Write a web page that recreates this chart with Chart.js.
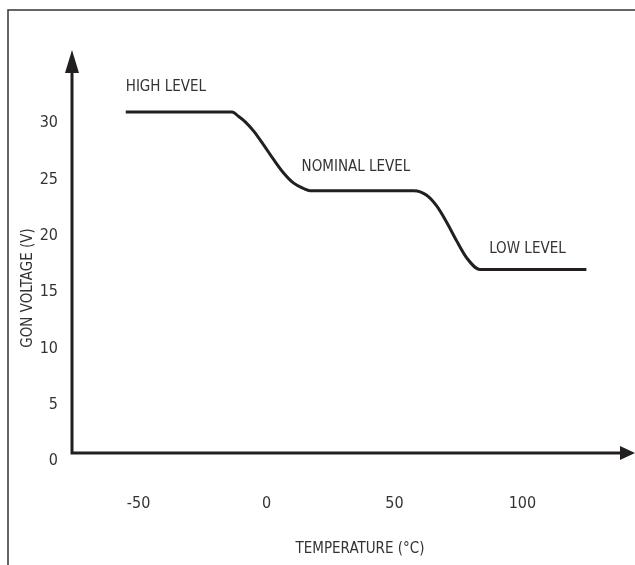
<!DOCTYPE html>
<html>
<head>
<meta charset="utf-8">
<script src="https://cdn.jsdelivr.net/npm/chart.js@4/dist/chart.umd.min.js"></script>
<style>
  html, body { margin: 0; padding: 0; background: #fff; }
  #wrap { width: 635px; height: 565px; position: relative; }
</style>
</head>
<body>
<div id="wrap"><canvas id="c" width="635" height="565"></canvas></div>
<script>
// GON output voltage versus temperature (three-level temperature compensation)
const temperatures = [-55, -13.5, -10.9, -8.2, -5.0, -1.2, 2.7, 6.6, 10.5, 14.5, 17,
                      57.6, 62.6, 66.5, 70.4, 74.3, 78.2, 83.4, 125];
const gonVoltage   = [31, 31, 30.6, 30.1, 29.3, 28.1, 26.8, 25.6, 24.7, 24.2, 24,
                      24, 23.6, 22.65, 21.2, 19.55, 18.05, 17, 17];

const xTicks = [-50, 0, 50, 100];
const yTicks = [0, 5, 10, 15, 20, 25, 30];

const levelNames = ['HIGH LEVEL', 'NOMINAL LEVEL', 'LOW LEVEL'];
const levelLabelX = [-55, 13.7, 87];
const levelLabelY = [33.2, 26.1, 18.8];

const xTitle = 'TEMPERATURE (°C)';
const yTitle = 'GON VOLTAGE (V)';

const FONT = "'Liberation Sans Narrow', 'DejaVu Sans Condensed', 'Liberation Sans', sans-serif";
const INK = '#231f20';
const TEXT = '#333333';

const decor = {
  id: 'decor',
  beforeDraw(chart) {
    const ctx = chart.ctx;
    ctx.save();
    // outer frame
    ctx.strokeStyle = '#333';
    ctx.lineWidth = 1.5;
    ctx.beginPath();
    ctx.moveTo(8, chart.height);
    ctx.lineTo(8, 10);
    ctx.lineTo(chart.width, 10);
    ctx.stroke();
    ctx.restore();
  },
  afterDatasetsDraw(chart) {
    const ctx = chart.ctx;
    const area = chart.chartArea;
    const xs = chart.scales.x, ys = chart.scales.y;
    const axisY = area.bottom - 8;
    const axisX = area.left;
    ctx.save();
    ctx.strokeStyle = INK;
    ctx.fillStyle = INK;
    ctx.lineWidth = 3;
    // axes
    ctx.beginPath();
    ctx.moveTo(axisX, area.top + 20);
    ctx.lineTo(axisX, axisY);
    ctx.lineTo(area.right - 12, axisY);
    ctx.stroke();
    // arrow heads
    ctx.beginPath();
    ctx.moveTo(axisX, area.top);
    ctx.lineTo(axisX - 7, area.top + 23);
    ctx.lineTo(axisX + 7, area.top + 23);
    ctx.closePath();
    ctx.fill();
    ctx.beginPath();
    ctx.moveTo(area.right, axisY);
    ctx.lineTo(area.right - 15, axisY - 7);
    ctx.lineTo(area.right - 15, axisY + 7);
    ctx.closePath();
    ctx.fill();

    // level labels
    ctx.fillStyle = TEXT;
    ctx.font = '15px ' + FONT;
    ctx.textAlign = 'left';
    ctx.textBaseline = 'middle';
    levelNames.forEach((name, i) => {
      ctx.fillText(name, xs.getPixelForValue(levelLabelX[i]), ys.getPixelForValue(levelLabelY[i]));
    });

    // axis titles
    ctx.textAlign = 'center';
    ctx.fillText(xTitle, 360, 549);
    ctx.save();
    ctx.translate(28, 288);
    ctx.rotate(-Math.PI / 2);
    ctx.fillText(yTitle, 0, 0);
    ctx.restore();
    ctx.restore();
  }
};

new Chart(document.getElementById('c'), {
  type: 'line',
  data: {
    datasets: [{
      data: temperatures.map((t, i) => ({ x: t, y: gonVoltage[i] })),
      borderColor: INK,
      borderWidth: 3,
      pointRadius: 0,
      cubicInterpolationMode: 'monotone',
      fill: false
    }]
  },
  options: {
    responsive: false,
    animation: false,
    events: [],
    layout: { padding: { top: 50, right: 0, bottom: 0, left: 0 } },
    plugins: { legend: { display: false }, tooltip: { enabled: false } },
    scales: {
      x: {
        type: 'linear',
        min: -76,
        max: 144,
        afterBuildTicks: s => { s.ticks = xTicks.map(v => ({ value: v })); },
        afterFit: s => { s.height = 104; },
        grid: { display: false, drawTicks: false },
        border: { display: false },
        ticks: { color: TEXT, font: { family: FONT, size: 16 }, padding: 33, maxRotation: 0 }
      },
      y: {
        type: 'linear',
        min: 0,
        max: 36.5,
        afterBuildTicks: s => { s.ticks = yTicks.map(v => ({ value: v })); },
        afterFit: s => { s.width = 72; },
        grid: { display: false, drawTicks: false },
        border: { display: false },
        ticks: { color: TEXT, font: { family: FONT, size: 16 }, padding: 14 }
      }
    }
  },
  plugins: [decor]
});
</script>
</body>
</html>
